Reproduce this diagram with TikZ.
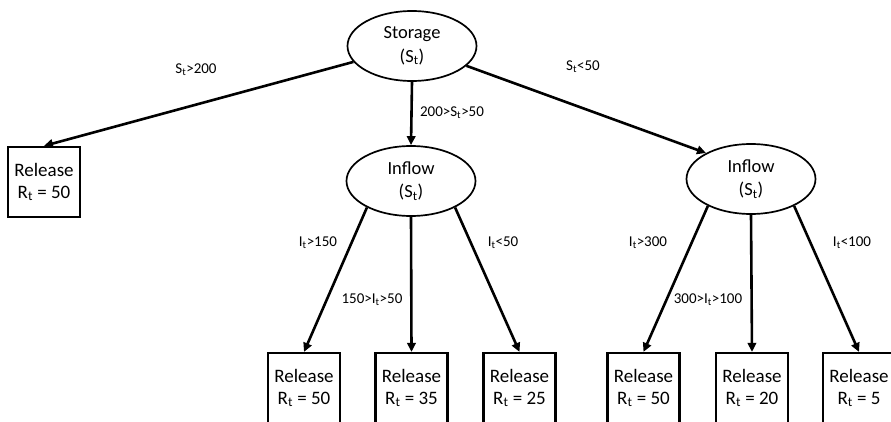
\documentclass[tikz,border=0pt]{standalone}
\usepackage{fontspec}
\setmainfont{Carlito}
\usetikzlibrary{arrows.meta,shapes.geometric}
\begin{document}
\begin{tikzpicture}[x=1pt,y=-1pt,
  decision/.style={ellipse, draw, line width=1.7pt, minimum width=129pt,
    minimum height=70pt, inner sep=0pt, align=center,
    font=\fontsize{18.5}{23.5}\selectfont},
  outcome/.style={rectangle, draw, line width=2.2pt, minimum width=72pt,
    minimum height=70pt, inner sep=0pt, align=center,
    font=\fontsize{19}{21.5}\selectfont},
  branch/.style={line width=2.6pt, -{Triangle[length=9pt,width=8.5pt]}},
  cond/.style={font=\fontsize{15}{17}\selectfont, inner sep=0pt}
]
\useasboundingbox (0,0) rectangle (891,422);
\clip (0,0) rectangle (891,422);

% decision nodes
\node[decision] (storage) at (412,46) {Storage\\(S\textsubscript{t})};
\node[decision] (inflowA) at (411,181) {Inflow\\(S\textsubscript{t})};
\node[decision] (inflowB) at (751,179) {Inflow\\(S\textsubscript{t})};

% release outcomes
\node[outcome] (relHigh) at (44,182) {Release\\R\textsubscript{t} = 50};
\node[outcome] (relA1) at (304,388) {Release\\R\textsubscript{t} = 50};
\node[outcome] (relA2) at (411.5,388) {Release\\R\textsubscript{t} = 35};
\node[outcome] (relA3) at (519.5,388) {Release\\R\textsubscript{t} = 25};
\node[outcome] (relB1) at (643.5,388) {Release\\R\textsubscript{t} = 50};
\node[outcome] (relB2) at (752,388) {Release\\R\textsubscript{t} = 20};
\node[outcome] (relB3) at (859,388) {Release\\R\textsubscript{t} = 5};

% storage branches
\draw[branch] (storage) -- (relHigh.north);
\draw[branch] (storage.south) -- (inflowA.north);
\draw[branch] (storage) -- (inflowB.150);

% inflow branches (medium storage)
\draw[branch] (inflowA.211.5) -- (relA1.north);
\draw[branch] (inflowA.south) -- (relA2.north);
\draw[branch] (inflowA.329.6) -- (relA3.north);

% inflow branches (low storage)
\draw[branch] (inflowB.212) -- (relB1.north);
\draw[branch] (inflowB.south) -- (relB2.north);
\draw[branch] (inflowB.328.7) -- (relB3.north);

% branch conditions
\node[cond] (c1) at (196,70) {S\textsubscript{t}>200};
\node[cond] (c2) at (452,113) {200>S\textsubscript{t}>50};
\node[cond] (c3) at (583,67) {S\textsubscript{t}<50};
\node[cond] (c4) at (318,243) {I\textsubscript{t}>150};
\node[cond] (c5) at (372,300) {150>I\textsubscript{t}>50};
\node[cond] (c6) at (503,243) {I\textsubscript{t}<50};
\node[cond] (c7) at (648,243) {I\textsubscript{t}>300};
\node[cond] (c8) at (708,300) {300>I\textsubscript{t}>100};
\node[cond] (c9) at (852,243) {I\textsubscript{t}<100};
\end{tikzpicture}
\end{document}
